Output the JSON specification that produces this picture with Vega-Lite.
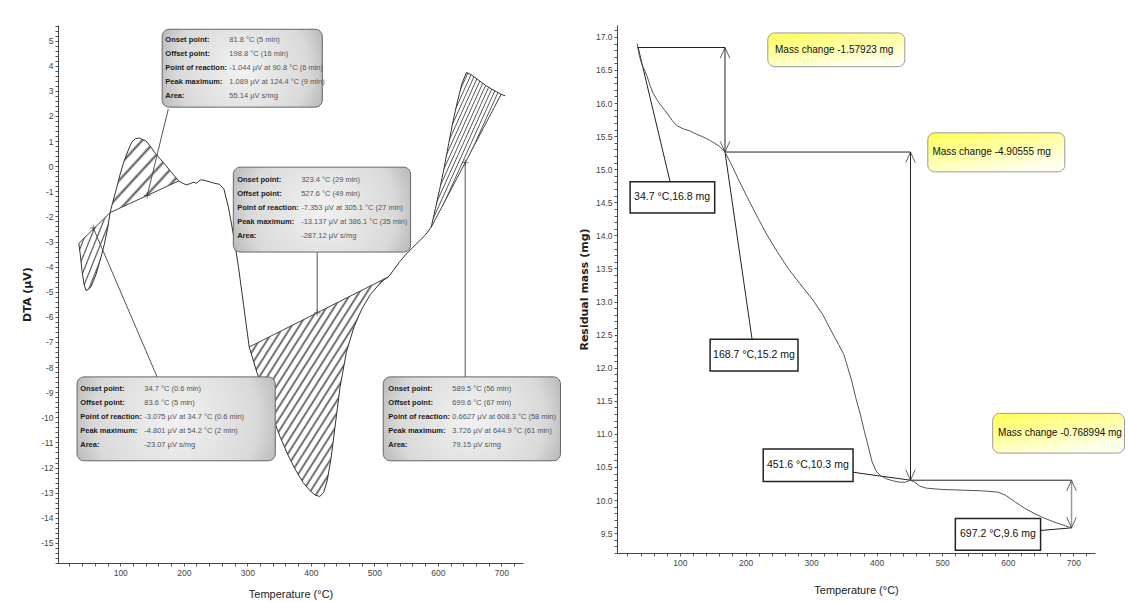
{
"$schema":"https://vega.github.io/schema/vega-lite/v6.json",
"background":"#ffffff",
"padding":{"left":21,"top":21,"right":0,"bottom":0},
"spacing":17,
"config":{
 "view":{"stroke":null},
 "axis":{"grid":false,"labelFont":"Liberation Sans","labelFontSize":8.5,"labelColor":"#444","tickColor":"#555","tickSize":3,"domainColor":"#444","labelOverlap":false,"labelFlush":false,"labelPadding":2,"titleColor":"#222"}
},
"datasets":{
 "dta":[{"T":34.7,"V":-3.075},{"T":37,"V":-3.5},{"T":40,"V":-4.2},{"T":43,"V":-4.7},{"T":46,"V":-4.95},{"T":50,"V":-4.9},{"T":54,"V":-4.8},{"T":58,"V":-4.55},{"T":62,"V":-4.3},{"T":66,"V":-3.95},{"T":70,"V":-3.6},{"T":75,"V":-3.1},{"T":80,"V":-2.5},{"T":84,"V":-1.85},{"T":88,"V":-1.45},{"T":94,"V":-0.9},{"T":100,"V":-0.3},{"T":106,"V":0.2},{"T":112,"V":0.6},{"T":118,"V":0.95},{"T":124,"V":1.1},{"T":130,"V":1.12},{"T":136,"V":1.05},{"T":140,"V":1.02},{"T":147,"V":0.8},{"T":155,"V":0.52},{"T":163,"V":0.28},{"T":171,"V":0.05},{"T":179,"V":-0.2},{"T":185,"V":-0.38},{"T":192,"V":-0.59},{"T":198,"V":-0.68},{"T":204,"V":-0.74},{"T":210,"V":-0.7},{"T":215,"V":-0.64},{"T":220,"V":-0.68},{"T":226,"V":-0.55},{"T":232,"V":-0.56},{"T":240,"V":-0.62},{"T":248,"V":-0.68},{"T":256,"V":-0.72},{"T":263,"V":-0.9},{"T":270,"V":-1.6},{"T":278,"V":-2.7},{"T":286,"V":-4.0},{"T":294,"V":-5.5},{"T":303,"V":-7.2},{"T":315,"V":-8.2},{"T":327,"V":-9.1},{"T":340,"V":-10.0},{"T":352,"V":-10.8},{"T":364,"V":-11.5},{"T":376,"V":-12.1},{"T":388,"V":-12.6},{"T":398,"V":-12.9},{"T":407,"V":-13.1},{"T":414,"V":-13.15},{"T":420,"V":-13.0},{"T":426,"V":-12.5},{"T":432,"V":-11.6},{"T":438,"V":-10.4},{"T":446,"V":-8.8},{"T":456,"V":-7.4},{"T":468,"V":-6.4},{"T":480,"V":-5.7},{"T":494,"V":-5.1},{"T":506,"V":-4.75},{"T":514,"V":-4.55},{"T":522,"V":-4.41},{"T":530,"V":-4.15},{"T":540,"V":-3.8},{"T":550,"V":-3.5},{"T":560,"V":-3.25},{"T":570,"V":-3.0},{"T":580,"V":-2.75},{"T":589.5,"V":-2.43},{"T":596,"V":-1.7},{"T":603,"V":-0.9},{"T":610,"V":-0.05},{"T":617,"V":0.9},{"T":624,"V":1.8},{"T":631,"V":2.6},{"T":638,"V":3.3},{"T":645,"V":3.73},{"T":652,"V":3.65},{"T":660,"V":3.5},{"T":668,"V":3.35},{"T":676,"V":3.2},{"T":684,"V":3.08},{"T":692,"V":2.97},{"T":699.6,"V":2.86},{"T":706,"V":2.8}],
 "hatch":[
  {"r":1,"T":34.7,"V":-3.075,"B":-3.075},{"r":1,"T":37,"V":-3.5,"B":-3.018},{"r":1,"T":40,"V":-4.2,"B":-2.943},{"r":1,"T":43,"V":-4.7,"B":-2.869},{"r":1,"T":46,"V":-4.95,"B":-2.794},{"r":1,"T":50,"V":-4.9,"B":-2.695},{"r":1,"T":54,"V":-4.8,"B":-2.595},{"r":1,"T":58,"V":-4.55,"B":-2.496},{"r":1,"T":62,"V":-4.3,"B":-2.397},{"r":1,"T":66,"V":-3.95,"B":-2.297},{"r":1,"T":70,"V":-3.6,"B":-2.198},{"r":1,"T":75,"V":-3.1,"B":-2.073},{"r":1,"T":80,"V":-2.5,"B":-1.949},{"r":1,"T":84,"V":-1.85,"B":-1.85},
  {"r":2,"T":84,"V":-1.85,"B":-1.85},{"r":2,"T":88,"V":-1.45,"B":-1.8},{"r":2,"T":94,"V":-0.9,"B":-1.73},{"r":2,"T":100,"V":-0.3,"B":-1.66},{"r":2,"T":106,"V":0.2,"B":-1.59},{"r":2,"T":112,"V":0.6,"B":-1.52},{"r":2,"T":118,"V":0.95,"B":-1.45},{"r":2,"T":124,"V":1.1,"B":-1.38},{"r":2,"T":130,"V":1.12,"B":-1.31},{"r":2,"T":136,"V":1.05,"B":-1.24},{"r":2,"T":140,"V":1.02,"B":-1.2},{"r":2,"T":147,"V":0.8,"B":-1.11},{"r":2,"T":155,"V":0.52,"B":-1.02},{"r":2,"T":163,"V":0.28,"B":-0.93},{"r":2,"T":171,"V":0.05,"B":-0.84},{"r":2,"T":179,"V":-0.2,"B":-0.74},{"r":2,"T":185,"V":-0.38,"B":-0.67},{"r":2,"T":192,"V":-0.59,"B":-0.59},
  {"r":3,"T":303,"V":-7.2,"B":-7.2},{"r":3,"T":315,"V":-8.2,"B":-7.05},{"r":3,"T":327,"V":-9.1,"B":-6.89},{"r":3,"T":340,"V":-10.0,"B":-6.73},{"r":3,"T":352,"V":-10.8,"B":-6.58},{"r":3,"T":364,"V":-11.5,"B":-6.42},{"r":3,"T":376,"V":-12.1,"B":-6.27},{"r":3,"T":388,"V":-12.6,"B":-6.12},{"r":3,"T":398,"V":-12.9,"B":-5.99},{"r":3,"T":407,"V":-13.1,"B":-5.87},{"r":3,"T":414,"V":-13.15,"B":-5.78},{"r":3,"T":420,"V":-13.0,"B":-5.71},{"r":3,"T":426,"V":-12.5,"B":-5.63},{"r":3,"T":432,"V":-11.6,"B":-5.55},{"r":3,"T":438,"V":-10.4,"B":-5.48},{"r":3,"T":446,"V":-8.8,"B":-5.37},{"r":3,"T":456,"V":-7.4,"B":-5.25},{"r":3,"T":468,"V":-6.4,"B":-5.1},{"r":3,"T":480,"V":-5.7,"B":-4.94},{"r":3,"T":494,"V":-5.1,"B":-4.77},{"r":3,"T":506,"V":-4.75,"B":-4.61},{"r":3,"T":514,"V":-4.55,"B":-4.51},{"r":3,"T":522,"V":-4.41,"B":-4.41},
  {"r":4,"T":589.5,"V":-2.43,"B":-2.43},{"r":4,"T":596,"V":-1.7,"B":-2.12},{"r":4,"T":603,"V":-0.9,"B":-1.78},{"r":4,"T":610,"V":-0.05,"B":-1.45},{"r":4,"T":617,"V":0.9,"B":-1.11},{"r":4,"T":624,"V":1.8,"B":-0.77},{"r":4,"T":631,"V":2.6,"B":-0.44},{"r":4,"T":638,"V":3.3,"B":-0.1},{"r":4,"T":645,"V":3.73,"B":0.24},{"r":4,"T":652,"V":3.65,"B":0.57},{"r":4,"T":660,"V":3.5,"B":0.96},{"r":4,"T":668,"V":3.35,"B":1.34},{"r":4,"T":676,"V":3.2,"B":1.73},{"r":4,"T":684,"V":3.08,"B":2.11},{"r":4,"T":692,"V":2.97,"B":2.49},{"r":4,"T":699.6,"V":2.86,"B":2.86}
 ],
 "base":[{"s":1,"T":34.7,"V":-3.075},{"s":1,"T":84,"V":-1.85},{"s":2,"T":84,"V":-1.85},{"s":2,"T":192,"V":-0.59},{"s":3,"T":303,"V":-7.2},{"s":3,"T":522,"V":-4.41},{"s":4,"T":589.5,"V":-2.43},{"s":4,"T":699.6,"V":2.86}],
 "lead":[{"T":175.6,"V":2.27,"T2":142.5,"V2":-1.16},{"T":57.5,"V":-2.46,"T2":158,"V2":-8.39},{"T":410,"V":-3.42,"T2":410,"V2":-5.84},{"T":643,"V":0.14,"T2":643,"V2":-8.39}],
 "plus":[{"T":57.5,"V":-2.46},{"T":142.5,"V":-1.16},{"T":410,"V":-5.84},{"T":643,"V":0.14}],
 "boxes":[{"T":166,"T2":418,"V":5.45,"V2":2.35},{"T":278,"T2":557,"V":-0.04,"V2":-3.42},{"T":32,"T2":344,"V":-8.39,"V2":-11.73},{"T":514,"T2":793,"V":-8.39,"V2":-11.73}],
 "btext":[
  {"T":171,"V":5.01,"label":"Onset point:","value":"81.8 °C (5 min)"},
  {"T":171,"V":4.45,"label":"Offset point:","value":"198.8 °C (16 min)"},
  {"T":171,"V":3.9,"label":"Point of reaction:","value":"-1.044 µV at 90.8 °C (6 min)"},
  {"T":171,"V":3.34,"label":"Peak maximum:","value":"1.089 µV at 124.4 °C (9 min)"},
  {"T":171,"V":2.78,"label":"Area:","value":"55.14 µV s/mg"},
  {"T":284,"V":-0.56,"label":"Onset point:","value":"323.4 °C (29 min)"},
  {"T":284,"V":-1.11,"label":"Offset point:","value":"527.6 °C (49 min)"},
  {"T":284,"V":-1.67,"label":"Point of reaction:","value":"-7.353 µV at 305.1 °C (27 min)"},
  {"T":284,"V":-2.23,"label":"Peak maximum:","value":"-13.137 µV at 386.1 °C (35 min)"},
  {"T":284,"V":-2.78,"label":"Area:","value":"-287.12 µV s/mg"},
  {"T":37,"V":-8.87,"label":"Onset point:","value":"34.7 °C (0.6 min)"},
  {"T":37,"V":-9.42,"label":"Offset point:","value":"83.6 °C (5 min)"},
  {"T":37,"V":-9.98,"label":"Point of reaction:","value":"-3.075 µV at 34.7 °C (0.6 min)"},
  {"T":37,"V":-10.54,"label":"Peak maximum:","value":"-4.801 µV at 54.2 °C (2 min)"},
  {"T":37,"V":-11.09,"label":"Area:","value":"-23.07 µV s/mg"},
  {"T":522,"V":-8.87,"label":"Onset point:","value":"589.5 °C (56 min)"},
  {"T":522,"V":-9.42,"label":"Offset point:","value":"699.6 °C (67 min)"},
  {"T":522,"V":-9.98,"label":"Point of reaction:","value":"0.6627 µV at 608.3 °C (58 min)"},
  {"T":522,"V":-10.54,"label":"Peak maximum:","value":"3.726 µV at 644.9 °C (61 min)"},
  {"T":522,"V":-11.09,"label":"Area:","value":"79.15 µV s/mg"}
 ],
 "tga":[{"T":34.7,"M":16.9},{"T":38,"M":16.72},{"T":42,"M":16.58},{"T":46,"M":16.5},{"T":50,"M":16.4},{"T":55,"M":16.25},{"T":59,"M":16.15},{"T":65,"M":16.05},{"T":72,"M":15.95},{"T":80,"M":15.85},{"T":88,"M":15.74},{"T":95,"M":15.66},{"T":105,"M":15.61},{"T":115,"M":15.58},{"T":125,"M":15.53},{"T":135,"M":15.49},{"T":145,"M":15.44},{"T":155,"M":15.38},{"T":161,"M":15.34},{"T":168.7,"M":15.26},{"T":178,"M":15.08},{"T":190,"M":14.83},{"T":203,"M":14.57},{"T":217,"M":14.3},{"T":232,"M":14.02},{"T":248,"M":13.76},{"T":265,"M":13.5},{"T":283,"M":13.27},{"T":303,"M":13.02},{"T":318,"M":12.8},{"T":330,"M":12.57},{"T":342,"M":12.35},{"T":350,"M":12.2},{"T":356,"M":12.0},{"T":362,"M":11.8},{"T":368,"M":11.55},{"T":375,"M":11.3},{"T":381,"M":11.05},{"T":387,"M":10.82},{"T":393,"M":10.58},{"T":399,"M":10.44},{"T":406,"M":10.37},{"T":415,"M":10.32},{"T":425,"M":10.29},{"T":435,"M":10.27},{"T":444,"M":10.27},{"T":451.6,"M":10.3},{"T":458,"M":10.27},{"T":466,"M":10.21},{"T":476,"M":10.18},{"T":500,"M":10.16},{"T":530,"M":10.15},{"T":560,"M":10.14},{"T":585,"M":10.12},{"T":597,"M":10.07},{"T":610,"M":9.98},{"T":625,"M":9.88},{"T":640,"M":9.8},{"T":655,"M":9.73},{"T":670,"M":9.67},{"T":685,"M":9.62},{"T":697.2,"M":9.58}],
 "rrules":[{"T":34.7,"M":16.84,"T2":168.7,"M2":16.84,"k":"m"},{"T":168.7,"M":16.84,"T2":168.7,"M2":15.26,"k":"m"},{"T":168.7,"M":15.26,"T2":451.6,"M2":15.26,"k":"m"},{"T":451.6,"M":15.26,"T2":451.6,"M2":10.3,"k":"m"},{"T":451.6,"M":10.3,"T2":697.2,"M2":10.3,"k":"m"},{"T":697.2,"M":10.3,"T2":697.2,"M2":9.58,"k":"g"},{"T":36,"M":16.85,"T2":85,"M2":14.81,"k":"m"},{"T":168.7,"M":15.26,"T2":210,"M2":12.43,"k":"m"},{"T":364,"M":10.42,"T2":451.6,"M2":10.3,"k":"m"},{"T":650,"M":9.54,"T2":697.2,"M2":9.58,"k":"m"}],
 "arrows":[{"T":168.7,"M":16.84,"dir":"up"},{"T":168.7,"M":15.26,"dir":"down"},{"T":451.6,"M":15.26,"dir":"up"},{"T":451.6,"M":10.3,"dir":"down"},{"T":697.2,"M":10.3,"dir":"up"},{"T":697.2,"M":9.58,"dir":"down"}],
 "ybox":[{"T":234,"T2":443,"M":17.06,"M2":16.55},{"T":478,"T2":687,"M":15.55,"M2":14.96},{"T":577,"T2":778,"M":11.31,"M2":10.71}],
 "ytext":[{"T":245,"M":16.8,"text":"Mass change  -1.57923 mg"},{"T":485,"M":15.26,"text":"Mass change  -4.90555 mg"},{"T":585,"M":11.01,"text":"Mass change  -0.768994 mg"}],
 "wbox":[{"T":24,"T2":153,"M":14.81,"M2":14.34},{"T":146,"T2":280,"M":12.43,"M2":11.95},{"T":227,"T2":364,"M":10.77,"M2":10.28},{"T":520,"T2":650,"M":9.72,"M2":9.24}],
 "wtext":[{"T":88,"M":14.575,"text":"34.7 °C,16.8 mg"},{"T":213,"M":12.19,"text":"168.7 °C,15.2 mg"},{"T":295,"M":10.525,"text":"451.6 °C,10.3 mg"},{"T":585,"M":9.48,"text":"697.2 °C,9.6 mg"}]
},
"hconcat":[
 {
  "width":465,"height":538,
  "encoding":{
   "x":{"field":"T","type":"quantitative","scale":{"domain":[2,734],"nice":false,"zero":false},
        "axis":{"title":"Temperature (°C)","tickCount":36,"labelExpr":"datum.value % 100 === 0 ? datum.label : ''","titleFont":"Liberation Sans","titleFontSize":11,"titleFontWeight":"normal","titlePadding":12}},
   "y":{"field":"V","type":"quantitative","scale":{"domain":[-15.8,5.62],"nice":false,"zero":false},
        "axis":{"title":"DTA (µV)","tickCount":108,"labelExpr":"abs(datum.value - round(datum.value)) < 0.001 && datum.value < 5.5 ? '' + round(datum.value) : ''","titleFont":"DejaVu Sans","titleFontSize":11,"titleFontWeight":"bold","titlePadding":8}}
  },
  "layer":[
   {"data":{"name":"hatch"},"transform":[{"filter":"datum.r <= 2"}],
    "mark":{"type":"area","stroke":null,"fill":{"gradient":"linear","x1":0,"y1":0,"x2":1,"y2":1,"stops":[{"offset":0,"color":"#fff"},{"offset":0.03,"color":"#fff"},{"offset":0.05,"color":"#555"},{"offset":0.07,"color":"#fff"},{"offset":0.13,"color":"#fff"},{"offset":0.15,"color":"#555"},{"offset":0.17,"color":"#fff"},{"offset":0.23,"color":"#fff"},{"offset":0.25,"color":"#555"},{"offset":0.27,"color":"#fff"},{"offset":0.33,"color":"#fff"},{"offset":0.35,"color":"#555"},{"offset":0.37,"color":"#fff"},{"offset":0.43,"color":"#fff"},{"offset":0.45,"color":"#555"},{"offset":0.47,"color":"#fff"},{"offset":0.53,"color":"#fff"},{"offset":0.55,"color":"#555"},{"offset":0.57,"color":"#fff"},{"offset":0.63,"color":"#fff"},{"offset":0.65,"color":"#555"},{"offset":0.67,"color":"#fff"},{"offset":0.73,"color":"#fff"},{"offset":0.75,"color":"#555"},{"offset":0.77,"color":"#fff"},{"offset":0.83,"color":"#fff"},{"offset":0.85,"color":"#555"},{"offset":0.87,"color":"#fff"},{"offset":0.93,"color":"#fff"},{"offset":0.95,"color":"#555"},{"offset":0.97,"color":"#fff"},{"offset":1,"color":"#fff"}]}},
    "encoding":{"y2":{"field":"B"},"detail":{"field":"r","type":"nominal"}}},
   {"data":{"name":"hatch"},"transform":[{"filter":"datum.r >= 3"}],
    "mark":{"type":"area","stroke":null,"fill":{"gradient":"linear","x1":0,"y1":0,"x2":1,"y2":1,"stops":[{"offset":0,"color":"#fff"},
{"offset":0.0069,"color":"#fff"},{"offset":0.0139,"color":"#555"},{"offset":0.0209,"color":"#fff"},
{"offset":0.0347,"color":"#fff"},{"offset":0.0417,"color":"#555"},{"offset":0.0487,"color":"#fff"},
{"offset":0.0624,"color":"#fff"},{"offset":0.0694,"color":"#555"},{"offset":0.0764,"color":"#fff"},
{"offset":0.0902,"color":"#fff"},{"offset":0.0972,"color":"#555"},{"offset":0.1042,"color":"#fff"},
{"offset":0.118,"color":"#fff"},{"offset":0.125,"color":"#555"},{"offset":0.132,"color":"#fff"},
{"offset":0.1458,"color":"#fff"},{"offset":0.1528,"color":"#555"},{"offset":0.1598,"color":"#fff"},
{"offset":0.1736,"color":"#fff"},{"offset":0.1806,"color":"#555"},{"offset":0.1876,"color":"#fff"},
{"offset":0.2013,"color":"#fff"},{"offset":0.2083,"color":"#555"},{"offset":0.2153,"color":"#fff"},
{"offset":0.2291,"color":"#fff"},{"offset":0.2361,"color":"#555"},{"offset":0.2431,"color":"#fff"},
{"offset":0.2569,"color":"#fff"},{"offset":0.2639,"color":"#555"},{"offset":0.2709,"color":"#fff"},
{"offset":0.2847,"color":"#fff"},{"offset":0.2917,"color":"#555"},{"offset":0.2987,"color":"#fff"},
{"offset":0.3124,"color":"#fff"},{"offset":0.3194,"color":"#555"},{"offset":0.3264,"color":"#fff"},
{"offset":0.3402,"color":"#fff"},{"offset":0.3472,"color":"#555"},{"offset":0.3542,"color":"#fff"},
{"offset":0.368,"color":"#fff"},{"offset":0.375,"color":"#555"},{"offset":0.382,"color":"#fff"},
{"offset":0.3958,"color":"#fff"},{"offset":0.4028,"color":"#555"},{"offset":0.4098,"color":"#fff"},
{"offset":0.4236,"color":"#fff"},{"offset":0.4306,"color":"#555"},{"offset":0.4376,"color":"#fff"},
{"offset":0.4513,"color":"#fff"},{"offset":0.4583,"color":"#555"},{"offset":0.4653,"color":"#fff"},
{"offset":0.4791,"color":"#fff"},{"offset":0.4861,"color":"#555"},{"offset":0.4931,"color":"#fff"},
{"offset":0.5069,"color":"#fff"},{"offset":0.5139,"color":"#555"},{"offset":0.5209,"color":"#fff"},
{"offset":0.5347,"color":"#fff"},{"offset":0.5417,"color":"#555"},{"offset":0.5487,"color":"#fff"},
{"offset":0.5624,"color":"#fff"},{"offset":0.5694,"color":"#555"},{"offset":0.5764,"color":"#fff"},
{"offset":0.5902,"color":"#fff"},{"offset":0.5972,"color":"#555"},{"offset":0.6042,"color":"#fff"},
{"offset":0.618,"color":"#fff"},{"offset":0.625,"color":"#555"},{"offset":0.632,"color":"#fff"},
{"offset":0.6458,"color":"#fff"},{"offset":0.6528,"color":"#555"},{"offset":0.6598,"color":"#fff"},
{"offset":0.6736,"color":"#fff"},{"offset":0.6806,"color":"#555"},{"offset":0.6876,"color":"#fff"},
{"offset":0.7013,"color":"#fff"},{"offset":0.7083,"color":"#555"},{"offset":0.7153,"color":"#fff"},
{"offset":0.7291,"color":"#fff"},{"offset":0.7361,"color":"#555"},{"offset":0.7431,"color":"#fff"},
{"offset":0.7569,"color":"#fff"},{"offset":0.7639,"color":"#555"},{"offset":0.7709,"color":"#fff"},
{"offset":0.7847,"color":"#fff"},{"offset":0.7917,"color":"#555"},{"offset":0.7987,"color":"#fff"},
{"offset":0.8124,"color":"#fff"},{"offset":0.8194,"color":"#555"},{"offset":0.8264,"color":"#fff"},
{"offset":0.8402,"color":"#fff"},{"offset":0.8472,"color":"#555"},{"offset":0.8542,"color":"#fff"},
{"offset":0.868,"color":"#fff"},{"offset":0.875,"color":"#555"},{"offset":0.882,"color":"#fff"},
{"offset":0.8958,"color":"#fff"},{"offset":0.9028,"color":"#555"},{"offset":0.9098,"color":"#fff"},
{"offset":0.9236,"color":"#fff"},{"offset":0.9306,"color":"#555"},{"offset":0.9376,"color":"#fff"},
{"offset":0.9513,"color":"#fff"},{"offset":0.9583,"color":"#555"},{"offset":0.9653,"color":"#fff"},
{"offset":0.9791,"color":"#fff"},{"offset":0.9861,"color":"#555"},{"offset":0.9931,"color":"#fff"},
{"offset":1,"color":"#fff"}]}},
    "encoding":{"y2":{"field":"B"},"detail":{"field":"r","type":"nominal"}}},
   {"data":{"name":"base"},"mark":{"type":"line","color":"#444","strokeWidth":1},"encoding":{"detail":{"field":"s","type":"nominal"}}},
   {"data":{"name":"dta"},"mark":{"type":"line","color":"#333","strokeWidth":1}},
   {"data":{"name":"lead"},"mark":{"type":"rule","color":"#555","strokeWidth":1},"encoding":{"x2":{"field":"T2"},"y2":{"field":"V2"}}},
   {"data":{"name":"plus"},"mark":{"type":"point","shape":"M-1,0L1,0M0,-1L0,1","size":40,"color":"#333","strokeWidth":1,"filled":false}},
   {"data":{"name":"boxes"},"mark":{"type":"rect","xOffset":3,"yOffset":3,"fill":"#666","opacity":0.45,"cornerRadius":7},"encoding":{"x2":{"field":"T2"},"y2":{"field":"V2"}}},
   {"data":{"name":"boxes"},"mark":{"type":"rect","cornerRadius":7,"stroke":"#666","strokeWidth":1,"fill":{"gradient":"radial","x1":0.5,"y1":0.5,"r1":0,"x2":0.5,"y2":0.5,"r2":0.75,"stops":[{"offset":0,"color":"#f2f2f2"},{"offset":0.55,"color":"#d9d9d9"},{"offset":1,"color":"#8a8a8a"}]}},"encoding":{"x2":{"field":"T2"},"y2":{"field":"V2"}}},
   {"data":{"name":"btext"},"mark":{"type":"text","align":"left","baseline":"middle","font":"Liberation Sans","fontSize":7.5,"fontWeight":"bold","color":"#1a1a1a"},"encoding":{"text":{"field":"label"}}},
   {"data":{"name":"btext"},"mark":{"type":"text","align":"left","baseline":"middle","dx":64,"font":"Liberation Sans","fontSize":7.5,"color":"#555"},"encoding":{"text":{"field":"value"}}}
  ]
 },
 {
  "width":478,"height":528,
  "encoding":{
   "x":{"field":"T","type":"quantitative","scale":{"domain":[4,733],"nice":false,"zero":false},
        "axis":{"title":"Temperature (°C)","tickCount":36,"labelExpr":"datum.value % 100 === 0 ? datum.label : ''","titleFont":"Liberation Sans","titleFontSize":11,"titleFontWeight":"normal","titlePadding":18}},
   "y":{"field":"M","type":"quantitative","scale":{"domain":[9.2,17.18],"nice":false,"zero":false},
        "axis":{"title":"Residual mass (mg)","tickCount":80,"labelExpr":"abs(datum.value*2 - round(datum.value*2)) < 0.001 ? format(datum.value, '.1f') : ''","titleFont":"DejaVu Sans","titleFontSize":11,"titleFontWeight":"bold","titlePadding":6}}
  },
  "layer":[
   {"data":{"name":"rrules"},"transform":[{"filter":"datum.k === 'm'"}],"mark":{"type":"rule","color":"#222","strokeWidth":1},"encoding":{"x2":{"field":"T2"},"y2":{"field":"M2"}}},
   {"data":{"name":"rrules"},"transform":[{"filter":"datum.k === 'g'"}],"mark":{"type":"rule","color":"#999","strokeWidth":1.5},"encoding":{"x2":{"field":"T2"},"y2":{"field":"M2"}}},
   {"data":{"name":"tga"},"mark":{"type":"line","color":"#555","strokeWidth":1}},
   {"data":{"name":"arrows"},"mark":{"type":"point","filled":false,"size":450,"color":"#222","strokeWidth":1},"encoding":{"shape":{"field":"dir","type":"nominal","scale":{"domain":["up","down"],"range":["M-0.45,1L0,0L0.45,1","M-0.45,-1L0,0L0.45,-1"]},"legend":null}}},
   {"data":{"name":"ybox"},"mark":{"type":"rect","xOffset":3,"yOffset":3,"fill":"#777","opacity":0.45,"cornerRadius":7},"encoding":{"x2":{"field":"T2"},"y2":{"field":"M2"}}},
   {"data":{"name":"ybox"},"mark":{"type":"rect","cornerRadius":7,"stroke":"#999","strokeWidth":1,"fill":{"gradient":"linear","x1":0,"y1":0,"x2":0.6,"y2":1,"stops":[{"offset":0,"color":"#ffff55"},{"offset":1,"color":"#ffffee"}]}},"encoding":{"x2":{"field":"T2"},"y2":{"field":"M2"}}},
   {"data":{"name":"ytext"},"mark":{"type":"text","align":"left","baseline":"middle","font":"Liberation Sans","fontSize":10,"color":"#111"},"encoding":{"text":{"field":"text"}}},
   {"data":{"name":"wbox"},"mark":{"type":"rect","fill":"#fff","stroke":"#222","strokeWidth":1.5},"encoding":{"x2":{"field":"T2"},"y2":{"field":"M2"}}},
   {"data":{"name":"wtext"},"mark":{"type":"text","align":"center","baseline":"middle","font":"Liberation Sans","fontSize":10.5,"color":"#111"},"encoding":{"text":{"field":"text"}}}
  ]
 }
]
}
